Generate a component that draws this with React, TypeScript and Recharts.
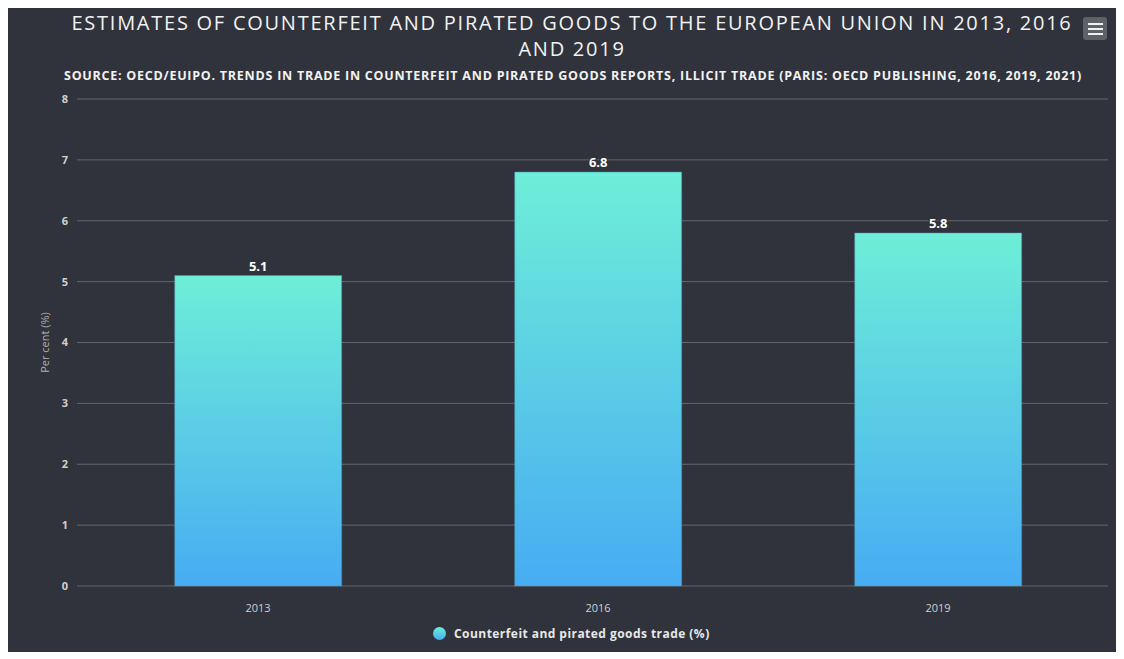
import { Bar, BarChart, CartesianGrid, LabelList, XAxis, YAxis } from "recharts";

const years = ["2013", "2016", "2019"];
const tradeShare = [5.1, 6.8, 5.8];
const yTicks = [0, 1, 2, 3, 4, 5, 6, 7, 8];

const data = years.map((year, i) => ({ year, share: tradeShare[i] }));

const BG = "#30333b";
const FONT = "'Open Sans', 'Liberation Sans', sans-serif";

export default function App() {
  return (
    <div
      style={{
        position: "relative",
        width: 1108,
        height: 645,
        background: BG,
        fontFamily: FONT,
        marginTop: -1,
      }}
    >
      <div
        style={{
          position: "absolute",
          left: 20,
          right: 0,
          top: 3,
          textAlign: "center",
          color: "#f2f2f2",
          fontSize: 20,
          lineHeight: "26px",
          letterSpacing: 1.75,
          whiteSpace: "nowrap",
        }}
      >
        ESTIMATES OF COUNTERFEIT AND PIRATED GOODS TO THE EUROPEAN UNION IN 2013, 2016
        <br />
        AND 2019
      </div>
      <div
        style={{
          position: "absolute",
          left: 22,
          right: 0,
          top: 60,
          textAlign: "center",
          color: "#f2f2f2",
          fontSize: 12.5,
          fontWeight: 700,
          letterSpacing: 0.75,
          whiteSpace: "nowrap",
        }}
      >
        SOURCE: OECD/EUIPO. TRENDS IN TRADE IN COUNTERFEIT AND PIRATED GOODS REPORTS, ILLICIT TRADE (PARIS: OECD PUBLISHING, 2016, 2019, 2021)
      </div>
      <div
        style={{
          position: "absolute",
          left: 1075,
          top: 10,
          width: 24,
          height: 23,
          borderRadius: 3,
          background: "#5f6168",
          display: "flex",
          flexDirection: "column",
          justifyContent: "center",
          alignItems: "center",
          gap: 3,
        }}
      >
        {[0, 1, 2].map((k) => (
          <div key={k} style={{ width: 15, height: 2, background: "#f0f0f0" }} />
        ))}
      </div>
      <BarChart
        width={1108}
        height={645}
        data={data}
        margin={{ top: 92, right: 8, bottom: 36, left: 0 }}
        barCategoryGap="25.5%"
      >
        <defs>
          <linearGradient id="barFill" x1="0" y1="0" x2="0" y2="1">
            <stop offset="0%" stopColor="#6eeed8" />
            <stop offset="100%" stopColor="#47acf3" />
          </linearGradient>
        </defs>
        <CartesianGrid vertical={false} stroke="#64666d" strokeWidth={1} />
        <XAxis
          dataKey="year"
          axisLine={false}
          tickLine={false}
          tickMargin={12}
          height={30}
          padding={{ left: 11, right: 0 }}
          tick={{ fill: "#d0d0d0", fontSize: 11 }}
        />
        <YAxis
          domain={[0, 8]}
          ticks={yTicks}
          interval={0}
          width={69}
          axisLine={false}
          tickLine={false}
          tickMargin={3}
          tick={{ fill: "#d0d0d0", fontSize: 11, fontWeight: 700 }}
          label={{
            value: "Per cent (%)",
            angle: -90,
            position: "insideLeft",
            offset: 37,
            style: { fill: "#b0b0b0", fontSize: 11, textAnchor: "middle" },
          }}
        />
        <Bar
          dataKey="share"
          fill="url(#barFill)"
          stroke="#4a8fb0"
          strokeWidth={0.5}
          isAnimationActive={false}
        >
          <LabelList
            dataKey="share"
            position="top"
            offset={5}
            formatter={(v: number) => v.toFixed(1)}
            style={{
              fill: "#ffffff",
              fontSize: 13,
              fontWeight: 700,
              stroke: BG,
              strokeWidth: 3,
              paintOrder: "stroke",
            }}
          />
        </Bar>
      </BarChart>
      <div
        style={{
          position: "absolute",
          left: 425,
          top: 618,
          display: "flex",
          alignItems: "center",
          gap: 8,
          color: "#e8e8e8",
          fontSize: 12,
          fontWeight: 700,
          letterSpacing: 0.45,
        }}
      >
        <span
          style={{
            width: 13,
            height: 13,
            borderRadius: "50%",
            background: "linear-gradient(#6eeed8, #47acf3)",
            display: "inline-block",
          }}
        />
        Counterfeit and pirated goods trade (%)
      </div>
    </div>
  );
}
